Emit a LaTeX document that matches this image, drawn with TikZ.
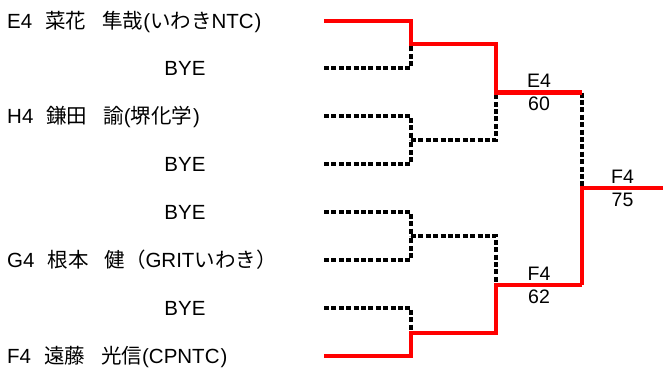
\documentclass[tikz,border=0pt]{standalone}
\usepackage{fontspec}
\setmainfont{Liberation Sans}
\newfontfamily\jp{Noto Sans CJK JP}
\usepackage{xcolor}
\definecolor{winred}{RGB}{255,0,0}
\usetikzlibrary{positioning}
\tikzset{
  win/.style={draw=winred,line width=4.2pt},
  lose/.style={draw=black,line width=3.2pt,dash pattern=on 5pt off 2.4pt}
}

\begin{document}
\begin{tikzpicture}[x=1pt,y=-1pt]
        \useasboundingbox (0,0) rectangle (663,367);
        \begin{scope}[every node/.style={anchor=base west,inner sep=0pt,font=\fontsize{20.5}{24}\selectfont}]
            \node (n1) at (7,28.5) {E4\hspace{13pt}{\jp 菜花}\hspace{16pt}{\jp 隼哉}({\jp いわき}NTC\hspace{1pt})};
            \node[anchor=base] (n2) at (185,75.5) {BYE};
            \node (n3) at (7,123.5) {H4\hspace{13pt}{\jp 鎌田}\hspace{16pt}{\jp 諭}({\jp 堺化学}\hspace{1pt})};
            \node[anchor=base] (n4) at (185,171.5) {BYE};
            \node[anchor=base] (n5) at (185,219.5) {BYE};
            \node (n6) at (7,267.5) {G4\hspace{13pt}{\jp 根本}\hspace{16pt}{\jp 健（}GRIT{\jp いわき）}};
            \node[anchor=base] (n7) at (185,315.5) {BYE};
            \node (n8) at (7,363.5) {F4\hspace{13pt}{\jp 遠藤}\hspace{16pt}{\jp 光信}(CPNTC\hspace{1pt})};
        \end{scope}
        \coordinate (p1) at (324,21);
        \coordinate (p2) at (324,68);
        \coordinate (p3) at (324,116);
        \coordinate (p4) at (324,164);
        \coordinate (p5) at (324,212);
        \coordinate (p6) at (324,260);
        \coordinate (p7) at (324,308);
        \coordinate (p8) at (324,356);
        \coordinate (m1) at (411,44);
        \coordinate (m2) at (411,140);
        \coordinate (m3) at (411,236);
        \coordinate (m4) at (411,333);
        \coordinate (s1) at (496,92.5);
        \coordinate (s2) at (496,285);
        \coordinate (t1) at (582,92.5);
        \coordinate (t2) at (582,285);
        \coordinate (fin) at (582,188);
        \coordinate (champ) at (663,188);
        \begin{scope}[every node/.style={inner sep=2.5pt,font=\fontsize{19.5}{22}\selectfont}]
             \path[lose] (p2) -| (m1);
             \path[lose] (p3) -| (m2);
             \path[lose] (p4) -| (m2);
             \path[lose] (m2) -| (s1);
             \path[lose] (p5) -| (m3);
             \path[lose] (p6) -| (m3);
             \path[lose] (m3) -| (s2);
             \path[lose] (p7) -| (m4);
             \path[lose] (t1) -- (fin);
             \path[win] (p1) -| (m1) -| (s1) -- node[above] {E4} node[below] {60} (t1);
             \path[win] (p8) -| (m4) -| (s2) -- node[above] {F4} node[below] {62} (t2);
             \path[win] (t2) -- (fin) -- node[above] {F4} node[below] {75} (champ);
        \end{scope}
\end{tikzpicture}
\end{document}
